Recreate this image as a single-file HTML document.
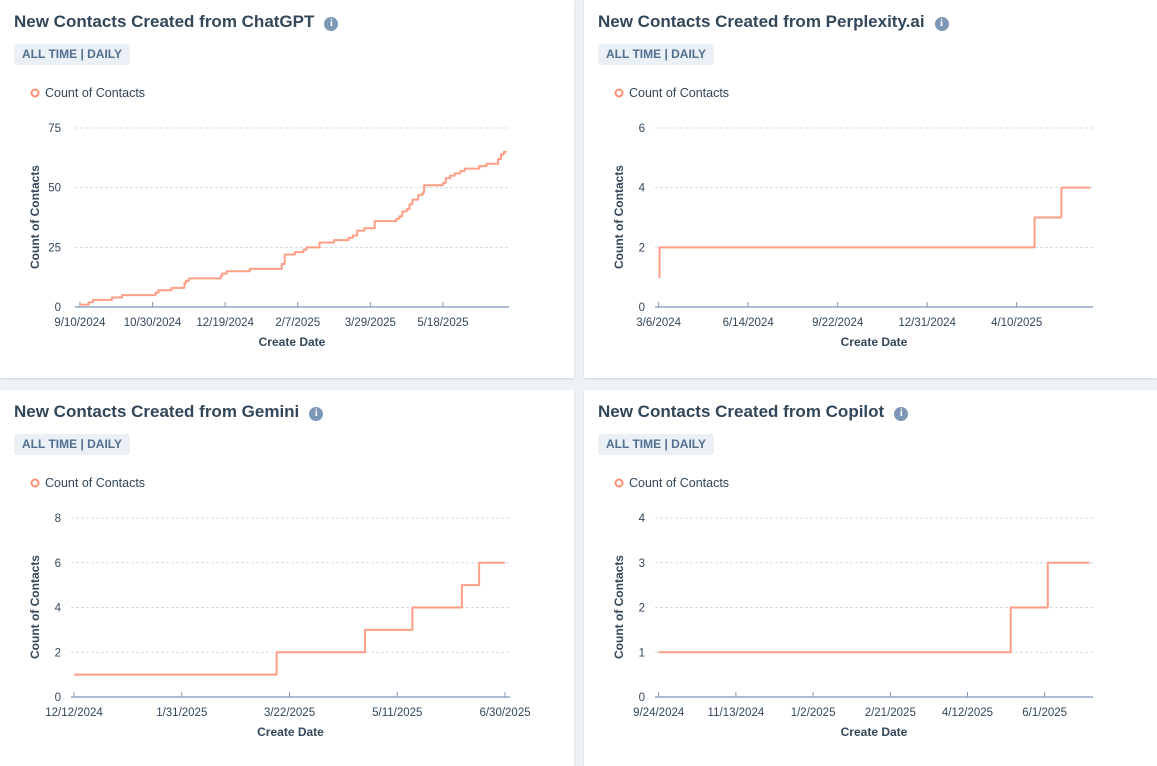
<!DOCTYPE html>
<html><head><meta charset="utf-8">
<style>
body{margin:0;width:1157px;height:766px;background:#eef1f5;font-family:"Liberation Sans",sans-serif;overflow:hidden;position:relative}
.card{position:absolute;background:#fff;box-shadow:0 1px 2px rgba(45,62,80,.15)}
.title{position:absolute;left:14px;top:12px;font-size:17px;font-weight:bold;color:#33475b;white-space:nowrap}
.info{display:inline-block;width:14px;height:14px;border-radius:50%;background:#7c98b6;color:#fff;font-size:10px;text-align:center;line-height:14px;margin-left:10px;vertical-align:1px;font-family:"Liberation Serif",serif;font-weight:bold}
.tag{position:absolute;left:14px;top:44px;height:21px;padding:0 8px;background:#eaf0f6;color:#516f90;font-size:12px;font-weight:bold;line-height:21px;border-radius:3px}
svg{position:absolute;left:0;top:0}
</style></head><body>
<div class="card" style="left:0;top:0;width:574px;height:378px">
 <div class="title">New Contacts Created from ChatGPT<span class="info">i</span></div>
 <div class="tag">ALL TIME | DAILY</div>
 <svg id="c1" width="574" height="378"></svg>
</div>
<div class="card" style="left:584px;top:0;width:573px;height:378px">
 <div class="title">New Contacts Created from Perplexity.ai<span class="info">i</span></div>
 <div class="tag">ALL TIME | DAILY</div>
 <svg id="c2" width="573" height="378"></svg>
</div>
<div class="card" style="left:0;top:390px;width:574px;height:376px">
 <div class="title">New Contacts Created from Gemini<span class="info">i</span></div>
 <div class="tag">ALL TIME | DAILY</div>
 <svg id="c3" width="574" height="376"></svg>
</div>
<div class="card" style="left:584px;top:390px;width:573px;height:376px">
 <div class="title">New Contacts Created from Copilot<span class="info">i</span></div>
 <div class="tag">ALL TIME | DAILY</div>
 <svg id="c4" width="573" height="376"></svg>
</div>
<script>
// ChatGPT: day offsets from 9/10/2024 and cumulative counts
const gptDays=[0,6,9,22,29,52,54,63,72,73,75,97,98,101,117,139,141,148,154,156,165,175,185,188,191,196,203,218,220,222,225,227,229,233,236,237,250,252,255,258,262,265,275,280,288,290,292,294];
const gptVals=[1,2,3,4,5,6,7,8,10,11,12,13,14,15,16,18,22,23,24,25,27,28,29,30,32,33,36,37,38,40,41,43,45,47,48,51,52,54,55,56,57,58,59,60,62,64,65,65];
const gptTickDays=[0,50,100,150,200,250];
const gptTickLabels=["9/10/2024","10/30/2024","12/19/2024","2/7/2025","3/29/2025","5/18/2025"];
const gptYTicks=[0,25,50,75];
// Perplexity: from 3/6/2024
const pplDays=[0,1,420,450,482];
const pplVals=[1,2,3,4,4];
const pplTickDays=[0,100,200,300,400];
const pplTickLabels=["3/6/2024","6/14/2024","9/22/2024","12/31/2024","4/10/2025"];
const pplYTicks=[0,2,4,6];
// Gemini: from 12/12/2024
const gemDays=[0,94,135,157,180,188,200];
const gemVals=[1,2,3,4,5,6,6];
const gemTickDays=[0,50,100,150,200];
const gemTickLabels=["12/12/2024","1/31/2025","3/22/2025","5/11/2025","6/30/2025"];
const gemYTicks=[0,2,4,6,8];
// Copilot: from 9/24/2024
const copDays=[0,228,252,279];
const copVals=[1,2,3,3];
const copTickDays=[0,50,100,150,200,250];
const copTickLabels=["9/24/2024","11/13/2024","1/2/2025","2/21/2025","4/12/2025","6/1/2025"];
const copYTicks=[0,1,2,3,4];

const NS="http://www.w3.org/2000/svg";
function mk(svg,tag,attrs,text){const e=document.createElementNS(NS,tag);for(const k in attrs)e.setAttribute(k,attrs[k]);if(text!==undefined)e.textContent=text;svg.appendChild(e);return e;}
function draw(id,days,vals,tDays,tLabels,yTicks,dMin,dMax,X0,X1){
 const svg=document.getElementById(id);
 const Y0=307,Y1=128;
 const yMax=yTicks[yTicks.length-1];
 const xs=d=>X0+(d-dMin)/(dMax-dMin)*(X1-X0);
 const ys=v=>Y0-(v/yMax)*(Y0-Y1);
 let c=mk(svg,'circle',{cx:35,cy:93,r:3.5,fill:'none',stroke:'#ff8f73','stroke-width':2});
 
 
 let lt=mk(svg,'text',{x:45,y:97,'font-size':12.5,fill:'#33475b'},'Count of Contacts');
 
 
 yTicks.forEach(v=>{
  const y=ys(v);
  if(v>0){const g=mk(svg,'line',{x1:X0,x2:X1,y1:y,y2:y,stroke:'#d3dde8','stroke-dasharray':'3,2'});
   
   }
  const t=mk(svg,'text',{x:61,y:y+4,'font-size':11.5,fill:'#33475b','text-anchor':'end'},String(v));
  
  
 });
 const ax=mk(svg,'line',{x1:X0,x2:X1,y1:Y0,y2:Y0,stroke:'#7c98b6','stroke-width':1.2});
 
 
 tDays.forEach((d,i)=>{
  const x=xs(d);
  const tk=mk(svg,'line',{x1:x,x2:x,y1:Y0,y2:Y0-5,stroke:'#7c98b6'});
  
  
  const t=mk(svg,'text',{x:x,y:Y0+19,'font-size':11.5,fill:'#33475b','text-anchor':'middle'},tLabels[i]);
  
  
 });
 const yt=mk(svg,'text',{x:0,y:0,'font-size':12,'font-weight':'bold',fill:'#33475b','text-anchor':'middle',transform:'translate(39,217) rotate(-90)'},'Count of Contacts');
 
 
 const xt=mk(svg,'text',{x:(X0+X1)/2,y:346,'font-size':12,'font-weight':'bold',fill:'#33475b','text-anchor':'middle'},'Create Date');
 
 
 let p='M'+xs(days[0])+','+ys(vals[0]);
 for(let i=1;i<days.length;i++){p+=' L'+xs(days[i])+','+ys(vals[i-1])+' L'+xs(days[i])+','+ys(vals[i]);}
 const ln=mk(svg,'path',{d:p,fill:'none',stroke:'#ff9e85','stroke-width':2,'stroke-linejoin':'round'});
 
 
}
draw('c1',gptDays,gptVals,gptTickDays,gptTickLabels,gptYTicks,-3.4,295.5,75,509);
draw('c2',pplDays,pplVals,pplTickDays,pplTickLabels,pplYTicks,-4.1,485.3,71,509);
draw('c3',gemDays,gemVals,gemTickDays,gemTickLabels,gemYTicks,-1.4,202.3,71,510);
draw('c4',copDays,copVals,copTickDays,copTickLabels,copYTicks,-2.4,281.3,71,509);
</script>
</body></html>
